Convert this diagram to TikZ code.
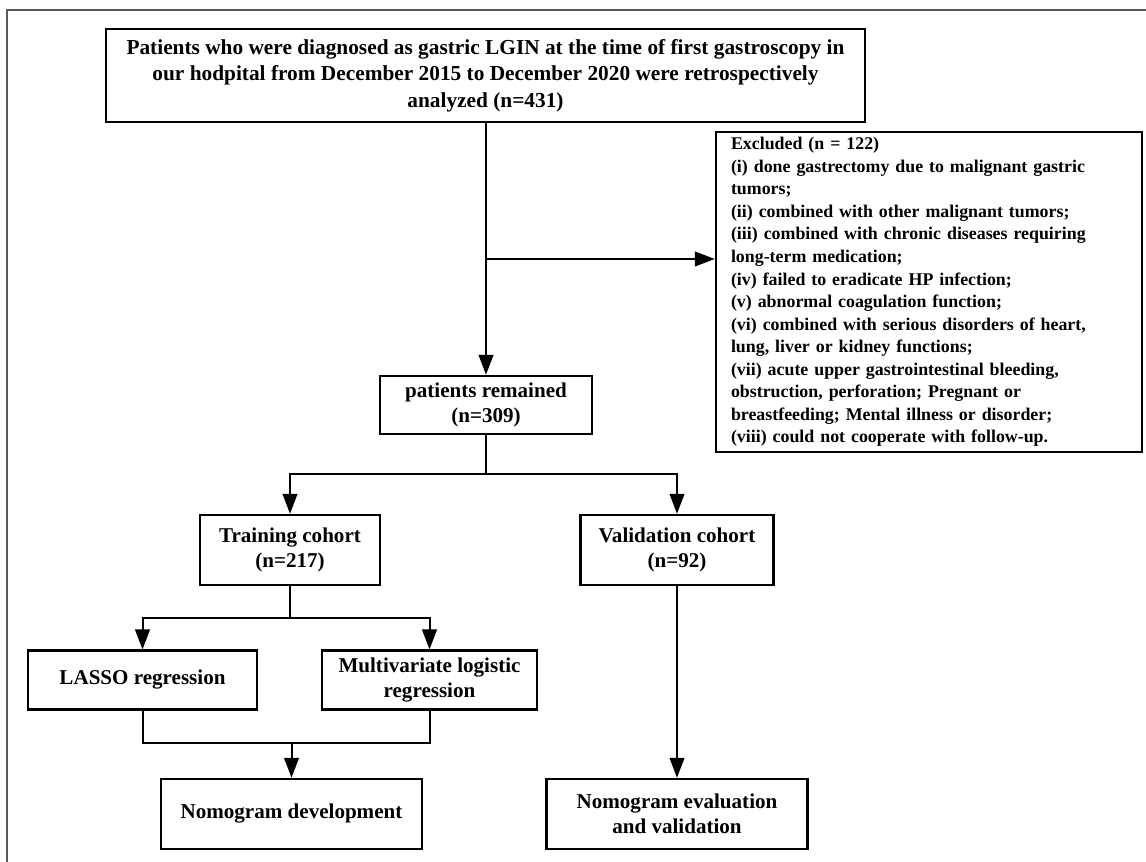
\documentclass[tikz,border=0pt]{standalone}
\usepackage{fontspec}
\setmainfont{Liberation Serif}
\usepackage{tikz}
\usetikzlibrary{positioning, arrows.meta}

\tikzset{
  box/.style={draw, line width=1.8pt, align=center, inner sep=0pt,
    font=\bfseries\fontsize{15.8}{19}\selectfont},
  line/.style={line width=1.5pt},
  arr/.style={line width=1.5pt, -{Triangle[length=15pt,width=11pt]}}
}

\begin{document}
\begin{tikzpicture}[x=0.75pt, y=-0.75pt]
    \useasboundingbox (0,0) rectangle (1146,862);
    % Frame
    \draw[gray!70!black, line width=0.8pt] (7,862) -- (7,10) -- (1146,10);

    % Boxes
    \node[box, minimum width=569pt, minimum height=70pt,
      font=\bfseries\fontsize{16}{20}\selectfont] (top) at (485.5,75.5)
      {Patients who were diagnosed as gastric LGIN at the time of first gastroscopy in\\
       our hodpital from December 2015 to December 2020 were retrospectively\\
       analyzed (n=431)};
    \node[box, minimum width=319.5pt, minimum height=240pt] (excl) at (929,292) {};
    \node[text width=297pt, align=left, inner sep=0pt,
      font=\bfseries\fontsize{13.4}{16.9}\selectfont] (excltext) at (excl.center)
      {Excluded (n = 122)\\
       (i) done gastrectomy due to malignant gastric\\
       tumors;\\
       (ii) combined with other malignant tumors;\\
       (iii) combined with chronic diseases requiring\\
       long-term medication;\\
       (iv) failed to eradicate HP infection;\\
       (v) abnormal coagulation function;\\
       (vi) combined with serious disorders of heart,\\
       lung, liver or kidney functions;\\
       (vii) acute upper gastrointestinal bleeding,\\
       obstruction, perforation; Pregnant or\\
       breastfeeding; Mental illness or disorder;\\
       (viii) could not cooperate with follow-up.};
    \node[box, minimum width=159pt, minimum height=43.5pt] (remain) at (486,405)
      {patients remained\\(n=309)};
    \node[box, minimum width=135pt, minimum height=52.5pt] (train) at (290,550)
      {Training cohort\\(n=217)};
    \node[box, minimum width=145pt, minimum height=52.5pt] (valid) at (677,550)
      {Validation cohort\\(n=92)};
    \node[box, minimum width=172pt, minimum height=44pt] (lasso) at (142.5,680)
      {LASSO regression};
    \node[box, minimum width=161pt, minimum height=44pt] (multi) at (429.5,680)
      {Multivariate logistic\\regression};
    \node[box, minimum width=196pt, minimum height=52.5pt] (nomodev) at (291.5,814)
      {Nomogram development};
    \node[box, minimum width=196pt, minimum height=52.5pt] (nomoeval) at (677,814)
      {Nomogram evaluation\\and validation};

    % Junctions
    \coordinate (exjoin) at (486,259);
    \coordinate (split1) at (486,474);
    \coordinate (split2) at (290,618);
    \coordinate (join) at (291.5,743);

    % Connectors
    \draw[arr] (top.south -| exjoin) -- (remain.north);
    \draw[arr] (exjoin) -- (exjoin -| excl.west);
    \draw[line] (remain.south) -- (split1);
    \draw[arr] (split1) -| (train.north);
    \draw[arr] (split1) -| (valid.north);
    \draw[line] (train.south) -- (split2);
    \draw[arr] (split2) -| (lasso.north);
    \draw[arr] (split2) -| (multi.north);
    \draw[line] (lasso.south) |- (join) -| (multi.south);
    \draw[arr] (join) -- (nomodev.north);
    \draw[arr] (valid.south) -- (nomoeval.north);
\end{tikzpicture}
\end{document}
